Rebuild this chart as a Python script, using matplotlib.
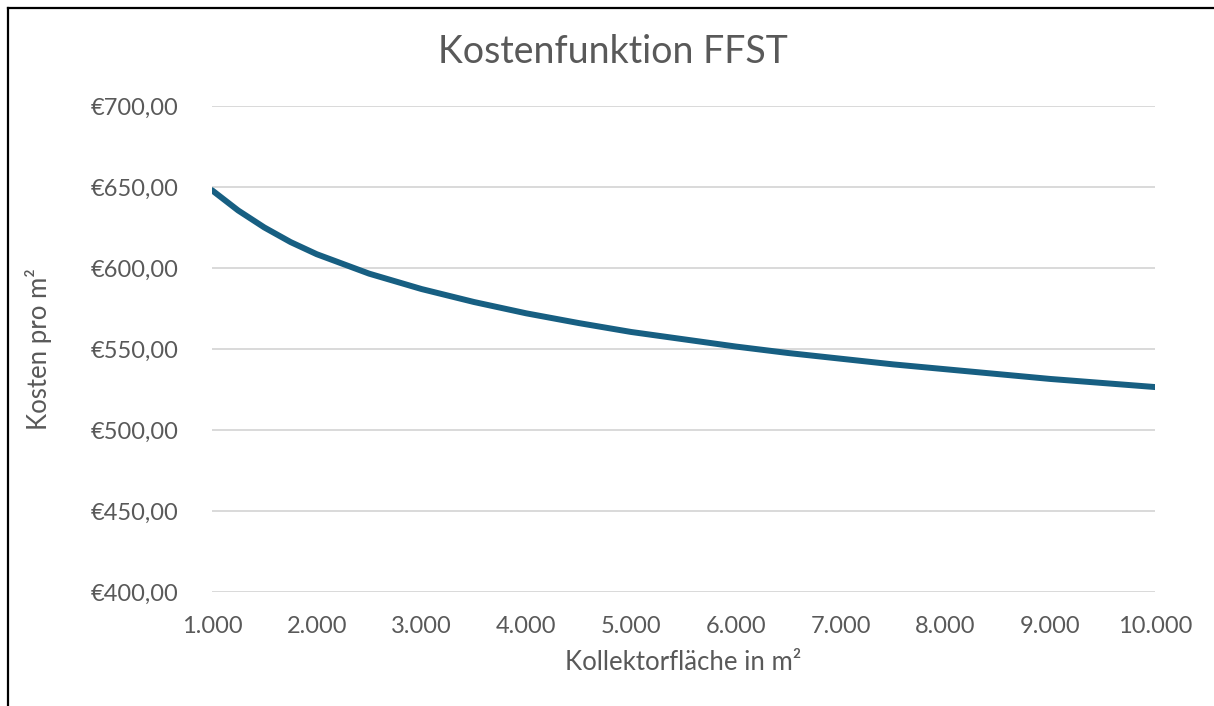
import matplotlib.pyplot as plt
from matplotlib.lines import Line2D
from matplotlib.ticker import FuncFormatter

# Kollektorfläche (m²) and Kosten pro m²
flaeche = [1000, 1250, 1500, 1750, 2000, 2500, 3000, 3500, 4000, 4500, 5000, 5500,
           6000, 6500, 7000, 7500, 8000, 8500, 9000, 9500, 10000]
kosten = [648.0, 635.5, 625.0, 616.0, 608.5, 596.5, 587.0, 579.0, 572.0, 566.0, 560.5, 556.0,
          551.5, 547.5, 544.0, 540.5, 537.5, 534.5, 531.5, 529.0, 526.5]

y_ticks = [400, 450, 500, 550, 600, 650, 700]
x_ticks = [1000, 2000, 3000, 4000, 5000, 6000, 7000, 8000, 9000, 10000]

plt.rcParams['font.family'] = ['Lato', 'DejaVu Sans']
grey = '#595959'

fig = plt.figure(figsize=(12.14, 7.06), dpi=100)
ax = fig.add_axes([0.1746, 0.1615, 0.9514 - 0.1746, 0.8499 - 0.1615])

ax.plot(flaeche, kosten, color='#175f82', linewidth=4.3, solid_capstyle='round',
        solid_joinstyle='round', zorder=3)

ax.set_xlim(1000, 10000)
ax.set_ylim(400, 700)
ax.set_yticks(y_ticks)
ax.set_xticks(x_ticks)
ax.yaxis.set_major_formatter(FuncFormatter(lambda v, p: '€' + f'{v:.2f}'.replace('.', ',')))
ax.xaxis.set_major_formatter(FuncFormatter(lambda v, p: f'{int(v):,}'.replace(',', '.')))

ax.grid(axis='y', color='#d9d9d9', linewidth=1.4)
ax.set_axisbelow(True)
for s in ax.spines.values():
    s.set_visible(False)
ax.tick_params(length=0, labelsize=17, labelcolor=grey)
ax.tick_params(axis='y', pad=24)
ax.tick_params(axis='x', pad=17)

fig.text(0.505, 1 - 52 / 706, 'Kostenfunktion FFST', fontsize=27, color=grey,
         ha='center', va='center')
ax.set_xlabel('Kollektorfläche in m²', fontsize=18.5, color=grey, labelpad=10)
ax.set_ylabel('Kosten pro m²', fontsize=18.5, color=grey, labelpad=28)

# chart frame (cut off at right and bottom)
fig.add_artist(Line2D([8 / 1214, 8 / 1214], [0, 1 - 8 / 706], color='black', linewidth=1.6,
                      transform=fig.transFigure))
fig.add_artist(Line2D([8 / 1214, 1], [1 - 8 / 706, 1 - 8 / 706], color='black', linewidth=1.6,
                      transform=fig.transFigure))

fig.savefig('out.png', dpi=100)
